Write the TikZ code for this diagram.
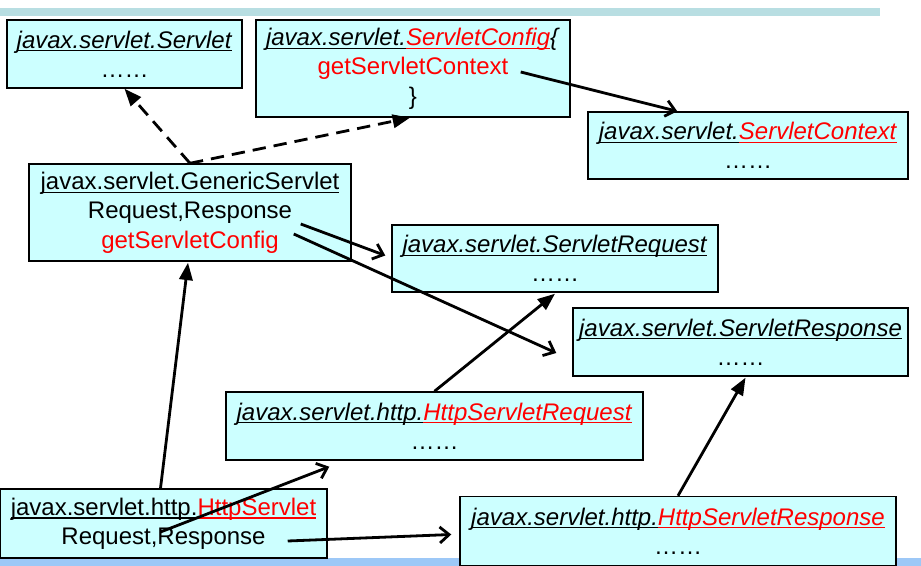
\documentclass[tikz,border=0pt]{standalone}
\usepackage{fontspec}
\setmainfont{Liberation Sans}
\usetikzlibrary{arrows.meta,calc}
\definecolor{boxfill}{RGB}{204,255,255}
\definecolor{topband}{RGB}{184,222,226}
\definecolor{botband}{RGB}{157,200,247}
\newcommand\ul[1]{{\setbox0\hbox{#1}\rlap{\rule[-2.6pt]{\wd0}{0.8pt}}\box0}}
\begin{document}
\begin{tikzpicture}[x=0.75pt,y=-0.75pt,
  cls/.style={draw,line width=1.1pt,fill=boxfill,align=center,inner sep=0pt,font=\fontsize{18}{22}\selectfont},
  dsh/.style={line width=2.1pt,dash pattern=on 10pt off 6pt,-{Triangle[length=13pt,width=10pt]}},
  lnk/.style={line width=2.1pt,-{Straight Barb[length=7pt,width=12pt,line width=2.1pt]}},
  up/.style={line width=2.1pt,-{Triangle[length=13pt,width=10pt]}}]
\useasboundingbox(0,0)rectangle(921,566);
\fill[topband](0,8)rectangle(880,16);\fill[botband](0,558)rectangle(921,566);
\node[cls,minimum width=176.25pt,minimum height=51pt](srv)at(124.5,54){\ul{\textit{javax.servlet.Servlet}}\\……};
\node[cls,minimum width=235.5pt,minimum height=72.75pt](cfg)at(413,68.5){\ul{\textit{javax.servlet.}}\textcolor{red}{\ul{\textit{ServletConfig}}}\textit{\{}\\\textcolor{red}{getServletContext}\\\}};
\node[cls,minimum width=240pt,minimum height=50.25pt](ctx)at(748,145.5){\ul{\textit{javax.servlet.}}\textcolor{red}{\ul{\textit{ServletContext}}}\\……};
\node[cls,minimum width=241.5pt,minimum height=72.75pt](gen)at(190,212.5){\ul{javax.servlet.GenericServlet}\\Request,Response\\\textcolor{red}{getServletConfig}};
\node[cls,minimum width=244.5pt,minimum height=50.25pt](req)at(555,258.5){\ul{\textit{javax.servlet.ServletRequest}}\\……};
\node[cls,minimum width=251.25pt,minimum height=51pt](rsp)at(740.5,342){\ul{\textit{javax.servlet.ServletResponse}}\\……};
\node[cls,minimum width=312.75pt,minimum height=51pt](hreq)at(434.5,426){\ul{\textit{javax.servlet.http.}}\textcolor{red}{\ul{\textit{HttpServletRequest}}}\\……};
\node[cls,minimum width=245.25pt,minimum height=51.75pt](hsv)at(163.5,523.5){\ul{javax.servlet.http.}\textcolor{red}{\ul{HttpServlet}}\\Request,Response};
\node[cls,minimum width=327pt,minimum height=51.75pt](hrsp)at(678,531){\ul{\textit{javax.servlet.http.}}\textcolor{red}{\ul{\textit{HttpServletResponse}}}\\……};
% dashed: interfaces
\draw[dsh](gen.north)--(srv.south);\draw[dsh](gen.north)--($(cfg.south)+(-3,0)$);
% solid links
\draw[lnk]($(cfg.east)+(-50,3.5)$)--($(ctx.north west)+(90,0)$);
\draw[lnk]($(gen.east)+(-51,11.5)$)--($(req.west)+(-6,-3)$);
\draw[lnk]($(gen.east)+(-58,21.5)$)--($(rsp.west)+(-16,11)$);
\draw[lnk]($(hsv.center)+(-3,8.5)$)--($(hreq.south west)+(104,6)$);
\draw[lnk]($(hsv.east)+(-40,17.5)$)--($(hrsp.west)+(-8,3.5)$);
\draw[up]($(hsv.north)+(-3,0)$)--($(gen.south)+(-2,1)$);
\draw[up](hreq.north)--($(req.south)+(0,1)$);
\draw[up](hrsp.north)--($(rsp.south)+(5,1)$);
\end{tikzpicture}
\end{document}
